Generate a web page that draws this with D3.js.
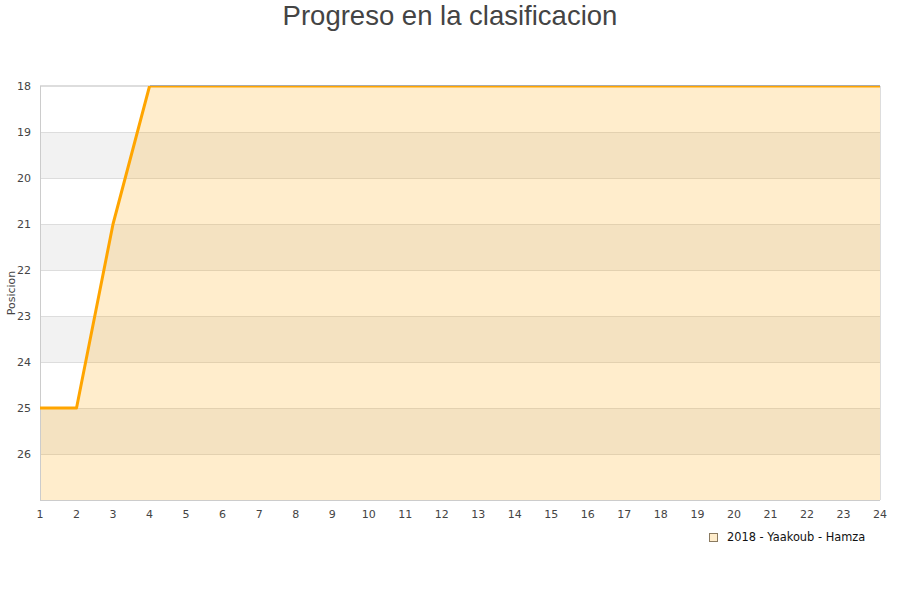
<!DOCTYPE html>
<html><head><meta charset="utf-8">
<script src="https://cdn.jsdelivr.net/npm/d3@7"></script>
<style>body{margin:0;background:#fff;font-family:"DejaVu Sans",sans-serif;}</style>
</head><body>
<svg id="c" width="900" height="600"></svg>
<script>
const jornadas = [1,2,3,4,5,6,7,8,9,10,11,12,13,14,15,16,17,18,19,20,21,22,23,24];
const posiciones = [25,25,21,18,18,18,18,18,18,18,18,18,18,18,18,18,18,18,18,18,18,18,18,18];
const yTicks = [18,19,20,21,22,23,24,25,26];
const seriesName = "2018 - Yaakoub - Hamza";
const title = "Progreso en la clasificacion";
const yLabel = "Posicion";

const svg = d3.select("#c");
const m = {l:40, r:880, t:86, b:500};
const x = d3.scaleLinear().domain([1,24]).range([m.l, m.r]);
const y = d3.scaleLinear().domain([18,27]).range([m.t, m.b]);

svg.append("defs").append("clipPath").attr("id","clip").append("rect")
  .attr("x", m.l-2).attr("y", m.t).attr("width", m.r-m.l+4).attr("height", m.b-m.t);

// alternating bands
const bands = [19,21,23,25];
svg.append("g").selectAll("rect").data(bands).enter().append("rect")
  .attr("x", m.l).attr("width", m.r-m.l)
  .attr("y", d=>y(d)).attr("height", d=>y(d+1)-y(d))
  .attr("fill", "#f2f2f2");

// gridlines
svg.append("g").selectAll("line").data(yTicks.concat([27])).enter().append("line")
  .attr("x1", m.l).attr("x2", m.r).attr("y1", d=>y(d)+0.5).attr("y2", d=>y(d)+0.5)
  .attr("stroke", "#dddddd").attr("stroke-width", 1);

const data = jornadas.map((j,i)=>({x:j, y:posiciones[i]}));
const area = d3.area().x(d=>x(d.x)).y0(y(27)).y1(d=>y(d.y));
svg.append("path").datum(data).attr("d", area).attr("fill", "#ffa500").attr("fill-opacity", 0.2);

// borders
svg.append("line").attr("x1", m.l+0.5).attr("x2", m.l+0.5).attr("y1", m.t).attr("y2", m.b)
  .attr("stroke", "#cccccc");
svg.append("line").attr("x1", m.l).attr("x2", m.r).attr("y1", m.b+0.5).attr("y2", m.b+0.5)
  .attr("stroke", "#cccccc");
svg.append("line").attr("x1", m.r+0.5).attr("x2", m.r+0.5).attr("y1", m.t).attr("y2", m.b)
  .attr("stroke", "#dddddd");

const line = d3.line().x(d=>x(d.x)).y(d=>y(d.y));
svg.append("path").datum(data).attr("d", line).attr("fill", "none")
  .attr("clip-path", "url(#clip)")
  .attr("stroke", "#ffa500").attr("stroke-width", 3).attr("stroke-linejoin", "round");

svg.append("line").attr("x1", x(4)).attr("x2", m.r).attr("y1", m.t-0.5).attr("y2", m.t-0.5)
  .attr("stroke", "#aaaaaa");
svg.append("line").attr("x1", m.l).attr("x2", x(4)).attr("y1", m.t-0.5).attr("y2", m.t-0.5)
  .attr("stroke", "#dddddd");

// y tick labels
svg.append("g").selectAll("text").data(yTicks).enter().append("text")
  .attr("x", 31).attr("y", d=>y(d)).attr("dy", "0.35em")
  .attr("text-anchor", "end").attr("font-size", 11).attr("fill", "#444")
  .text(d=>d);

// x tick labels
svg.append("g").selectAll("text").data(jornadas).enter().append("text")
  .attr("x", d=>x(d)).attr("y", 518)
  .attr("text-anchor", "middle").attr("font-size", 11).attr("fill", "#444")
  .text(d=>d);

// title
svg.append("text").attr("x", 450).attr("y", 25).attr("text-anchor", "middle")
  .attr("font-family", "Liberation Sans, Arial, sans-serif")
  .attr("font-size", 27.5).attr("fill", "#444").text(title);

// y label
svg.append("text").attr("transform", "translate(15,293) rotate(-90)")
  .attr("text-anchor", "middle").attr("font-size", 11).attr("fill", "#444").text(yLabel);

// legend
svg.append("rect").attr("x", 709.5).attr("y", 533.5).attr("width", 8).attr("height", 8)
  .attr("fill", "#ffedcc").attr("stroke", "#8a7a60");
svg.append("text").attr("x", 727).attr("y", 541).attr("font-size", 11.4).attr("fill", "#111")
  .text(seriesName);
</script>
</body></html>
